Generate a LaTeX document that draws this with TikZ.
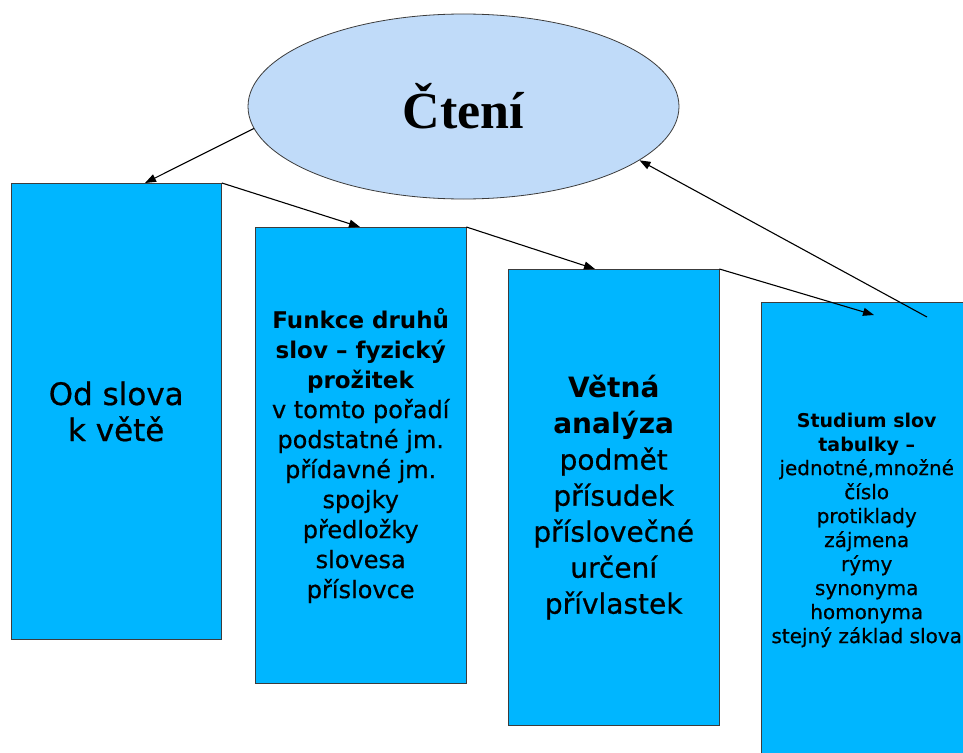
\documentclass[tikz,border=0pt]{standalone}
\usepackage{fontspec}
\setmainfont{DejaVu Sans}[UprightFeatures={FakeBold=0.6}]
\newfontfamily\serifbold{Liberation Serif}
\usetikzlibrary{shapes.geometric,arrows.meta}
\definecolor{boxblue}{RGB}{0,182,255}
\definecolor{ellblue}{RGB}{192,219,249}
\definecolor{edgegray}{RGB}{60,60,60}
\begin{document}
\begin{tikzpicture}[x=1pt,y=-1pt,
  tbox/.style={draw=edgegray, line width=0.9pt, fill=boxblue, rectangle,
    anchor=north west, minimum width=210.5pt, minimum height=456pt,
    inner sep=0pt, align=center, text=black},
  conn/.style={-{Triangle[length=11pt,width=8pt]}, line width=1.1pt, black}]
\useasboundingbox (0,0) rectangle (963,752);
\clip (0,0) rectangle (963,752);
\fill[white] (0,0) rectangle (963,752);

\node[ellipse, draw=edgegray, fill=ellblue, line width=0.8pt,
  minimum width=431pt, minimum height=185pt, inner sep=0pt]
  (ell) at (463.5,106.5) {\serifbold\bfseries\fontsize{52}{60}\selectfont Čtení};

\node[tbox, font=\fontsize{31}{36}\selectfont] (b1) at (10.5,183)
  {Od slova\\k větě};

\node[tbox, font=\fontsize{24}{30}\selectfont] (b2) at (255,227)
  {\textbf{\fontsize{23}{30}\selectfont Funkce druhů}\\
   \textbf{\fontsize{23}{30}\selectfont slov – fyzický}\\
   \textbf{\fontsize{23}{30}\selectfont prožitek}\\
   v tomto pořadí\\podstatné jm.\\přídavné jm.\\spojky\\předložky\\slovesa\\příslovce};

\node[tbox, font=\fontsize{28}{36}\selectfont] (b3) at (508,269)
  {\textbf{Větná}\\\textbf{analýza}\\podmět\\přísudek\\příslovečné\\určení\\přívlastek};

\node[tbox, font=\fontsize{20}{24}\selectfont] (b4) at (761,301.5)
  {\textbf{\fontsize{19}{24}\selectfont Studium slov}\\
   \textbf{\fontsize{19}{24}\selectfont tabulky –}\\
   jednotné,množné\\číslo\\protiklady\\zájmena\\rýmy\\synonyma\\homonyma\\stejný základ slova};

\coordinate (t1) at ([xshift=134.5pt]b1.north west);
\coordinate (t2) at ([xshift=105pt]b2.north west);
\coordinate (t3) at ([xshift=87pt]b3.north west);
\coordinate (t4) at ([xshift=113pt,yshift=-13.5pt]b4.north west);
\coordinate (s5) at ([xshift=166pt,yshift=-15.5pt]b4.north west);

\draw[conn] (ell.186.4) -- (t1);
\draw[conn] (b1.north east) -- (t2);
\draw[conn] (b2.north east) -- (t3);
\draw[conn] (b3.north east) -- (t4);
\draw[conn] (s5) -- (ell.343.7);
\end{tikzpicture}
\end{document}
